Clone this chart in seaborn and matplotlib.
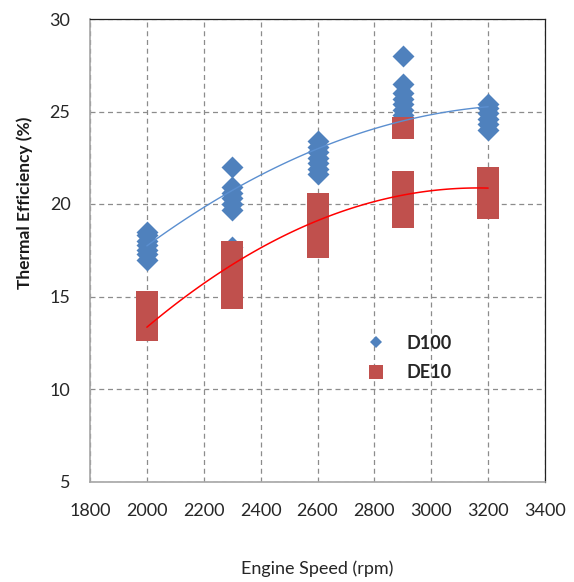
import numpy as np
import pandas as pd
import matplotlib
matplotlib.use("Agg")
import matplotlib.pyplot as plt
from matplotlib.lines import Line2D
from matplotlib.ticker import MultipleLocator, AutoMinorLocator
import seaborn as sns

sns.set_style("white")
plt.rcParams['font.family'] = ['Lato', 'DejaVu Sans']

# engine speeds (rpm) and thermal efficiency readings (%)
speed = [2000, 2300, 2600, 2900, 3200]
d100_2000 = [17.0, 17.3, 17.5, 17.8, 18.0, 18.3, 18.5]
d100_2300 = [17.7, 19.7, 20.0, 20.3, 20.6, 20.9, 22.0]
d100_2600 = [21.6, 21.9, 22.2, 22.5, 22.8, 23.1, 23.4]
d100_2900 = [24.8, 25.1, 25.4, 25.7, 26.0, 26.5, 28.0]
d100_3200 = [24.0, 24.3, 24.6, 24.9, 25.2, 25.4]
de10_2000 = [13.2, 13.5, 13.8, 14.1, 14.4, 14.7]
de10_2300 = [14.9, 15.4, 15.9, 16.4, 16.9, 17.4]
de10_2600 = [17.7, 18.2, 18.6, 19.1, 19.6, 20.0]
de10_2900 = [19.3, 19.7, 20.1, 20.5, 20.9, 21.2, 24.1]
de10_3200 = [19.8, 20.2, 20.6, 21.0, 21.4]
# polynomial trendline values read at each speed
d100_trend = [17.8, 20.6, 23.0, 24.6, 25.2]
de10_trend = [13.3, 16.8, 19.1, 20.4, 20.9]


def long_form(groups, name):
    rows = []
    for s, vals in zip(speed, groups):
        for v in vals:
            rows.append({'Speed': s, 'Efficiency': v, 'Fuel': name})
    return pd.DataFrame(rows)


d100 = long_form([d100_2000, d100_2300, d100_2600, d100_2900, d100_3200], 'D100')
de10 = long_form([de10_2000, de10_2300, de10_2600, de10_2900, de10_3200], 'DE10')

blue = '#4F81BD'
red = '#C0504D'

fig = plt.figure(figsize=(5.74, 5.82), dpi=100)
ax = fig.add_axes([90 / 574, 1 - 481.5 / 582, 455 / 574, 462.5 / 582])

sns.scatterplot(data=d100, x='Speed', y='Efficiency', marker='D', s=125,
                color=blue, linewidth=0, ax=ax, zorder=3, legend=False)
sns.scatterplot(data=de10, x='Speed', y='Efficiency', marker='s', s=235,
                color=red, linewidth=0, ax=ax, zorder=4, legend=False)
sns.regplot(x=speed, y=d100_trend, order=2, scatter=False, ci=None, ax=ax,
            line_kws={'color': '#5B8FD0', 'lw': 1.0, 'zorder': 5})
sns.regplot(x=speed, y=de10_trend, order=2, scatter=False, ci=None, ax=ax,
            line_kws={'color': '#FF0000', 'lw': 1.1, 'zorder': 5})

ax.set_xlim(1800, 3400)
ax.set_ylim(5, 30)
ax.xaxis.set_major_locator(MultipleLocator(200))
ax.yaxis.set_major_locator(MultipleLocator(5))
ax.xaxis.set_minor_locator(AutoMinorLocator(5))
ax.yaxis.set_minor_locator(AutoMinorLocator(5))
ax.grid(True, which='major', color='#8C8C8C', ls=(0, (4, 3)), lw=0.9)
ax.set_axisbelow(True)

for side in ['left', 'bottom']:
    ax.spines[side].set_color('#A6A6A6')
    ax.spines[side].set_linewidth(1.2)
for side in ['top', 'right']:
    ax.spines[side].set_color('#222222')
    ax.spines[side].set_linewidth(0.9)

ax.tick_params(axis='both', which='major', direction='inout', length=7,
               width=1, color='#A6A6A6', labelsize=13, labelcolor='#262626')
ax.tick_params(axis='x', which='major', pad=12)
ax.tick_params(axis='y', which='major', direction='out', length=6, pad=8)
ax.tick_params(axis='both', which='minor', direction='in', length=3.5,
               width=1, color='#A6A6A6')

ax.set_xlabel('Engine Speed (rpm)', fontsize=13, color='#262626')
ax.set_ylabel('Thermal Efficiency (%)', fontsize=12.5, fontweight='bold',
              color='#1a1a1a')
ax.xaxis.set_label_coords(0.5, -0.17)
ax.yaxis.set_label_coords(-0.125, 0.602)

handles = [
    Line2D([], [], marker='D', color=blue, ls='none', markersize=6, mew=0),
    Line2D([], [], marker='s', color=red, ls='none', markersize=9.5, mew=0),
]
ax.legend(handles, ['D100', 'DE10'], loc='center left',
          bbox_to_anchor=(0.569, 0.267), frameon=False,
          prop={'weight': 'bold', 'size': 13}, handlelength=1.2,
          handletextpad=1.1, labelspacing=0.7)

fig.savefig('out.png', dpi=100)
